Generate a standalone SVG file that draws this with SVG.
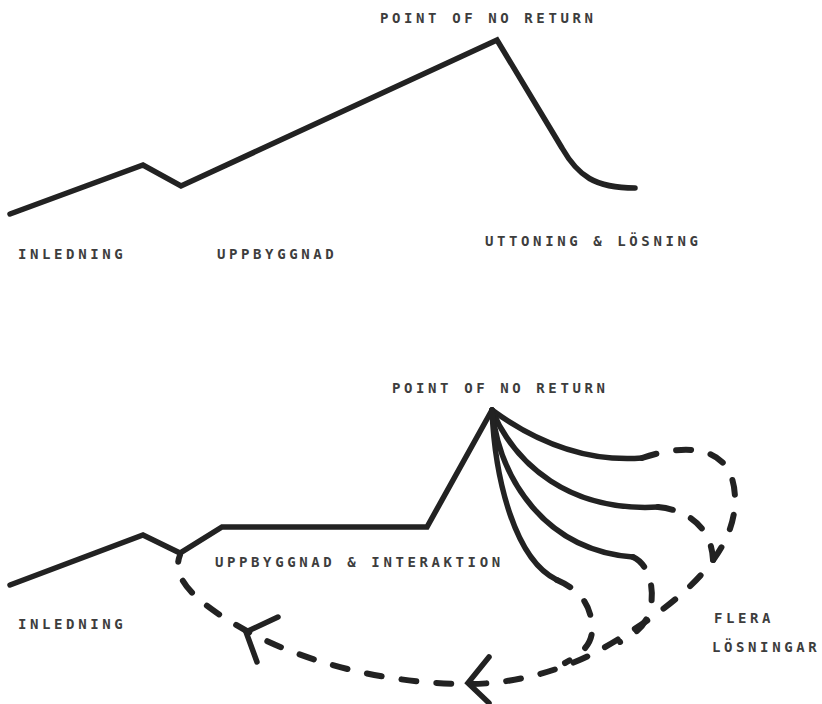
<svg xmlns="http://www.w3.org/2000/svg" width="822" height="704" viewBox="0 0 822 704">
<style>
.t{font-family:"DejaVu Sans Mono","Liberation Mono",monospace;font-size:14px;font-weight:bold;letter-spacing:3.6px;fill:#3d3d3d}
.s{fill:none;stroke:#222;stroke-width:5.5;stroke-linejoin:miter;stroke-linecap:round}
.d{fill:none;stroke:#222;stroke-width:6;stroke-linecap:round;stroke-dasharray:15 20}
</style>
<rect width="822" height="704" fill="#fff"/>
<g id="top-curve">
<path class="s" d="M10,214 L143,165 L181,186 L497,40 L562,148 C578,176 595,188 635,188"/>
</g>
<g id="top-labels">
<text class="t" x="380" y="23">POINT OF NO RETURN</text>
<text class="t" x="18" y="259">INLEDNING</text>
<text class="t" x="217" y="259">UPPBYGGNAD</text>
<text class="t" x="485" y="246">UTTONING &amp; LÖSNING</text>
</g>
<g id="bottom-curve">
<path class="s" d="M10,585 L143,535 L180,553 L222,527 L427,527 L492,410"/>
<path class="s" d="M492,410 C540,445 590,462 642,458"/>
<path class="s" d="M492,410 C515,465 570,512 658,507"/>
<path class="s" d="M492,410 C500,480 545,550 633,557"/>
<path class="s" d="M492,410 C495,480 515,560 557,580"/>
</g>
<g id="connectors">
<path class="d" d="M642,458 C680,445 735,440 735,500 C735,560 670,610 600,650 C560,672 510,684 470,684 C380,684 300,660 245,630 C200,605 170,580 180,555"/>
<path class="d" d="M658,507 C690,510 712,530 713,560"/>
<path class="d" d="M633,557 C650,565 655,590 650,610 C646,625 635,635 620,642"/>
<path class="d" d="M557,580 C580,590 592,605 592,630 C592,645 580,655 565,663"/>
<path class="s" d="M278,617 L246,632 L257,662"/>
<path class="s" d="M489,657 L468,683 L489,703"/>
</g>
<g id="bottom-labels">
<text class="t" x="392" y="393">POINT OF NO RETURN</text>
<text class="t" x="215" y="567">UPPBYGGNAD &amp; INTERAKTION</text>
<text class="t" x="18" y="629">INLEDNING</text>
<text class="t" x="714" y="623">FLERA</text>
<text class="t" x="712" y="652">LÖSNINGAR</text>
</g>
</svg>
